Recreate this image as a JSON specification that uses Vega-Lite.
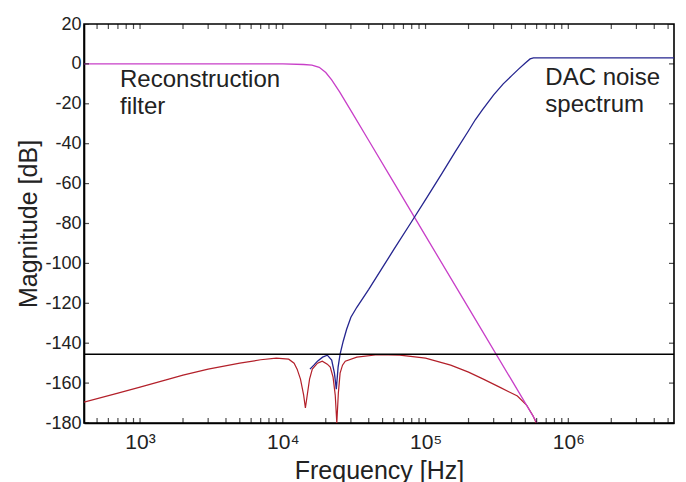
{
  "$schema": "https://vega.github.io/schema/vega-lite/v6.json",
  "autosize": {"type": "none"},
  "width": 590,
  "height": 399,
  "padding": {"left": 84, "top": 24, "right": 12, "bottom": 59},
  "background": "white",
  "config": {
    "view": {"stroke": "black", "strokeWidth": 1.6},
    "axis": {"grid": false, "labelFont": "Liberation Sans", "titleFont": "Liberation Sans", "labelColor": "#222", "titleColor": "#222", "titleFontWeight": "normal"}
  },
  "datasets": {
    "filter": [
      {"f": 405, "db": 0}, {"f": 10000, "db": 0}, {"f": 14000, "db": -0.3}, {"f": 16000, "db": -0.6},
      {"f": 18000, "db": -1.7}, {"f": 20000, "db": -4.3}, {"f": 22000, "db": -8}, {"f": 25000, "db": -14},
      {"f": 30000, "db": -23.4}, {"f": 40000, "db": -38.4}, {"f": 60000, "db": -59.5}, {"f": 100000, "db": -86.2},
      {"f": 200000, "db": -122.3}, {"f": 400000, "db": -158.4}, {"f": 605000, "db": -180}
    ],
    "dac": [
      {"f": 15500, "db": -153}, {"f": 16500, "db": -151}, {"f": 17500, "db": -149}, {"f": 19000, "db": -147},
      {"f": 20500, "db": -146}, {"f": 22000, "db": -148.5}, {"f": 23000, "db": -155}, {"f": 23700, "db": -163},
      {"f": 24400, "db": -152}, {"f": 25200, "db": -145.5}, {"f": 26500, "db": -139}, {"f": 28000, "db": -133},
      {"f": 30000, "db": -127}, {"f": 33000, "db": -122}, {"f": 40000, "db": -113}, {"f": 50000, "db": -102},
      {"f": 60000, "db": -93}, {"f": 80000, "db": -79}, {"f": 100000, "db": -68}, {"f": 130000, "db": -55},
      {"f": 160000, "db": -44.5}, {"f": 200000, "db": -33.5}, {"f": 223000, "db": -28}, {"f": 250000, "db": -23},
      {"f": 300000, "db": -15.5}, {"f": 350000, "db": -10}, {"f": 400000, "db": -6}, {"f": 450000, "db": -2.5},
      {"f": 500000, "db": 0.5}, {"f": 540000, "db": 2.5}, {"f": 570000, "db": 3}, {"f": 5500000, "db": 3}
    ],
    "filtered": [
      {"f": 405, "db": -169.5}, {"f": 700, "db": -165}, {"f": 1000, "db": -162}, {"f": 1500, "db": -158.5},
      {"f": 2000, "db": -156}, {"f": 3000, "db": -153}, {"f": 5000, "db": -150}, {"f": 7000, "db": -148.3},
      {"f": 9000, "db": -147.5}, {"f": 11000, "db": -148}, {"f": 12000, "db": -150}, {"f": 12600, "db": -153},
      {"f": 13300, "db": -158}, {"f": 14000, "db": -166}, {"f": 14400, "db": -172.5}, {"f": 14900, "db": -165},
      {"f": 15400, "db": -158}, {"f": 16100, "db": -153}, {"f": 17500, "db": -150}, {"f": 18900, "db": -149},
      {"f": 20500, "db": -150.5}, {"f": 21500, "db": -152}, {"f": 22500, "db": -157}, {"f": 23300, "db": -166},
      {"f": 23900, "db": -180}, {"f": 24500, "db": -165}, {"f": 25200, "db": -155}, {"f": 26200, "db": -151},
      {"f": 27400, "db": -149}, {"f": 33000, "db": -147}, {"f": 46000, "db": -145.8}, {"f": 66000, "db": -146},
      {"f": 100000, "db": -147.5}, {"f": 150000, "db": -151}, {"f": 200000, "db": -154.5}, {"f": 254000, "db": -158},
      {"f": 330000, "db": -162}, {"f": 440000, "db": -166.5}, {"f": 510000, "db": -171}, {"f": 567000, "db": -176.5},
      {"f": 596000, "db": -180}
    ],
    "limit": [{"f": 405, "db": -145.5}, {"f": 5500000, "db": -145.5}],
    "notes": [
      {"f": 724, "db": -11.5, "label": "Reconstruction\nfilter"},
      {"f": 690000, "db": -10.5, "label": "DAC noise\nspectrum"}
    ],
    "xticks": [
      {"f": 500, "db": -180}, {"f": 600, "db": -180}, {"f": 700, "db": -180}, {"f": 800, "db": -180}, {"f": 900, "db": -180}, {"f": 1000, "db": -180},
      {"f": 2000, "db": -180}, {"f": 3000, "db": -180}, {"f": 4000, "db": -180}, {"f": 5000, "db": -180}, {"f": 6000, "db": -180}, {"f": 7000, "db": -180}, {"f": 8000, "db": -180}, {"f": 9000, "db": -180}, {"f": 10000, "db": -180},
      {"f": 20000, "db": -180}, {"f": 30000, "db": -180}, {"f": 40000, "db": -180}, {"f": 50000, "db": -180}, {"f": 60000, "db": -180}, {"f": 70000, "db": -180}, {"f": 80000, "db": -180}, {"f": 90000, "db": -180}, {"f": 100000, "db": -180},
      {"f": 200000, "db": -180}, {"f": 300000, "db": -180}, {"f": 400000, "db": -180}, {"f": 500000, "db": -180}, {"f": 600000, "db": -180}, {"f": 700000, "db": -180}, {"f": 800000, "db": -180}, {"f": 900000, "db": -180}, {"f": 1000000, "db": -180},
      {"f": 2000000, "db": -180}, {"f": 3000000, "db": -180}, {"f": 4000000, "db": -180}, {"f": 5000000, "db": -180},
      {"f": 500, "db": 20}, {"f": 600, "db": 20}, {"f": 700, "db": 20}, {"f": 800, "db": 20}, {"f": 900, "db": 20}, {"f": 1000, "db": 20},
      {"f": 2000, "db": 20}, {"f": 3000, "db": 20}, {"f": 4000, "db": 20}, {"f": 5000, "db": 20}, {"f": 6000, "db": 20}, {"f": 7000, "db": 20}, {"f": 8000, "db": 20}, {"f": 9000, "db": 20}, {"f": 10000, "db": 20},
      {"f": 20000, "db": 20}, {"f": 30000, "db": 20}, {"f": 40000, "db": 20}, {"f": 50000, "db": 20}, {"f": 60000, "db": 20}, {"f": 70000, "db": 20}, {"f": 80000, "db": 20}, {"f": 90000, "db": 20}, {"f": 100000, "db": 20},
      {"f": 200000, "db": 20}, {"f": 300000, "db": 20}, {"f": 400000, "db": 20}, {"f": 500000, "db": 20}, {"f": 600000, "db": 20}, {"f": 700000, "db": 20}, {"f": 800000, "db": 20}, {"f": 900000, "db": 20}, {"f": 1000000, "db": 20},
      {"f": 2000000, "db": 20}, {"f": 3000000, "db": 20}, {"f": 4000000, "db": 20}, {"f": 5000000, "db": 20}
    ],
    "yticks": [
      {"f": 405, "db": -180}, {"f": 405, "db": -160}, {"f": 405, "db": -140}, {"f": 405, "db": -120}, {"f": 405, "db": -100}, {"f": 405, "db": -80},
      {"f": 405, "db": -60}, {"f": 405, "db": -40}, {"f": 405, "db": -20}, {"f": 405, "db": 0}, {"f": 405, "db": 20},
      {"f": 5500000, "db": -180}, {"f": 5500000, "db": -160}, {"f": 5500000, "db": -140}, {"f": 5500000, "db": -120}, {"f": 5500000, "db": -100}, {"f": 5500000, "db": -80},
      {"f": 5500000, "db": -60}, {"f": 5500000, "db": -40}, {"f": 5500000, "db": -20}, {"f": 5500000, "db": 0}, {"f": 5500000, "db": 20}
    ]
  },
  "encoding": {
    "x": {"field": "f", "type": "quantitative", "scale": {"type": "log", "domain": [405, 5500000], "nice": false},
      "axis": {"orient": "bottom", "domain": true, "domainColor": "black", "domainWidth": 1.6, "ticks": false,
        "values": [1000, 10000, 100000, 1000000],
        "labelExpr": "datum.value == 1000 ? '10³' : datum.value == 10000 ? '10⁴' : datum.value == 100000 ? '10⁵' : '10⁶'",
        "labelOverlap": false, "labelFlush": false, "labelPadding": 8, "labelFontSize": 21,
        "title": "Frequency [Hz]", "titleFontSize": 25, "titleBaseline": "alphabetic", "titleY": 55}},
    "y": {"field": "db", "type": "quantitative", "scale": {"domain": [-180, 20], "nice": false},
      "axis": {"orient": "left", "domain": true, "domainColor": "black", "domainWidth": 1.6, "ticks": false,
        "values": [-180,-160,-140,-120,-100,-80,-60,-40,-20,0,20], "labelExpr": "datum.value + ''",
        "labelPadding": 3, "labelFontSize": 18,
        "title": "Magnitude [dB]", "titleFontSize": 25, "titleBaseline": "alphabetic", "titleX": -48}}
  },
  "layer": [
    {"data": {"name": "filtered"}, "mark": {"type": "line", "color": "#b3202a", "strokeWidth": 1.2, "clip": true}},
    {"data": {"name": "filter"}, "mark": {"type": "line", "color": "#c83fc8", "strokeWidth": 1.3, "clip": true}},
    {"data": {"name": "dac"}, "mark": {"type": "line", "color": "#25258f", "strokeWidth": 1.3, "clip": true}},
    {"data": {"name": "limit"}, "mark": {"type": "line", "color": "#000", "strokeWidth": 1.5, "clip": true}},
    {"data": {"name": "xticks"}, "mark": {"type": "tick", "orient": "vertical", "color": "black", "size": 10, "thickness": 1.2, "clip": true}},
    {"data": {"name": "yticks"}, "mark": {"type": "tick", "orient": "horizontal", "color": "black", "size": 10, "thickness": 1.2, "clip": true}},
    {"data": {"name": "notes"}, "mark": {"type": "text", "align": "left", "baseline": "alphabetic", "font": "Liberation Sans", "fontSize": 24, "lineBreak": "\n", "lineHeight": 27, "color": "#222"},
      "encoding": {"text": {"field": "label"}}}
  ]
}
